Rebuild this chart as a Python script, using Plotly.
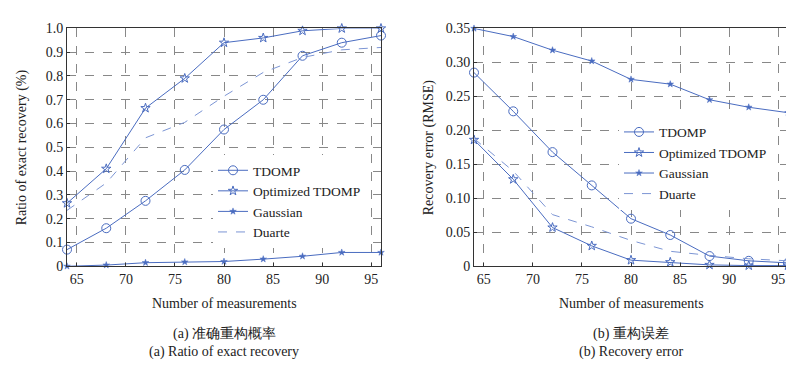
import plotly.graph_objects as go

x_meas = [64, 68, 72, 76, 80, 84, 88, 92, 96]

# (a) Ratio of exact recovery
ratio_tdomp = [0.07, 0.16, 0.275, 0.405, 0.575, 0.70, 0.885, 0.94, 0.97]
ratio_opt = [0.265, 0.41, 0.665, 0.79, 0.94, 0.96, 0.99, 1.0, 1.0]
ratio_gauss = [0.0, 0.005, 0.015, 0.018, 0.02, 0.03, 0.042, 0.058, 0.058]
ratio_duarte = [0.235, 0.35, 0.54, 0.605, 0.715, 0.815, 0.878, 0.91, 0.92]

# (b) Recovery error
err_tdomp = [0.285, 0.228, 0.168, 0.119, 0.070, 0.046, 0.015, 0.008, 0.005]
err_opt = [0.186, 0.128, 0.057, 0.030, 0.009, 0.006, 0.002, 0.001, 0.001]
err_gauss = [0.350, 0.338, 0.318, 0.302, 0.275, 0.268, 0.245, 0.234, 0.226]
err_duarte = [0.188, 0.140, 0.076, 0.058, 0.038, 0.022, 0.016, 0.011, 0.008]

x_ticks = [65, 70, 75, 80, 85, 90, 95]
left_yticks = [0, 0.1, 0.2, 0.3, 0.4, 0.5, 0.6, 0.7, 0.8, 0.9, 1.0]
left_yticktext = ["0", "0.1", "0.2", "0.3", "0.4", "0.5", "0.6", "0.7", "0.8", "0.9", "1.0"]
right_yticks = [0, 0.05, 0.10, 0.15, 0.20, 0.25, 0.30, 0.35]
right_yticktext = ["0", "0.05", "0.10", "0.15", "0.20", "0.25", "0.30", "0.35"]

names = ["TDOMP", "Optimized TDOMP", "Gaussian", "Duarte"]

W, H = 794, 366
FONT = "Liberation Serif"
BLUE = "#4a6cc0"
LBLUE = "#7c95d4"

fig = go.Figure()

def add_series(xa, ya, ys, legendname):
    styles = [
        dict(mode="lines+markers", marker=dict(symbol="circle-open", size=9, color=BLUE, line=dict(width=1, color=BLUE)), line=dict(color=BLUE, width=1)),
        dict(mode="lines+markers", marker=dict(symbol="star-open", size=7, color=BLUE, line=dict(width=1, color=BLUE)), line=dict(color=BLUE, width=1)),
        dict(mode="lines+markers", marker=dict(symbol="star", size=5, color=BLUE, line=dict(width=0.5, color=BLUE)), line=dict(color=BLUE, width=1)),
        dict(mode="lines", line=dict(color=LBLUE, width=1, dash="dash")),
    ]
    for name, y, st in zip(names, ys, styles):
        fig.add_trace(go.Scatter(x=x_meas, y=y, name=name, xaxis=xa, yaxis=ya,
                                 legend=legendname, cliponaxis=False, **st))

add_series("x", "y", [ratio_tdomp, ratio_opt, ratio_gauss, ratio_duarte], "legend")
add_series("x2", "y2", [err_tdomp, err_opt, err_gauss, err_duarte], "legend2")

ax_common = dict(
    showline=True, linecolor="#333", linewidth=1, mirror=True,
    showgrid=True, gridcolor="#888", griddash="dash", gridwidth=1,
    ticks="inside", ticklen=3, tickcolor="#333", zeroline=False,
    tickfont=dict(family=FONT, size=14, color="#222"),
)

def px_x(p):
    return p / W

def px_y(p):
    return 1 - p / H

leg_font = dict(family=FONT, size=13.5, color="#222")

fig.update_layout(
    width=W, height=H,
    margin=dict(l=0, r=0, t=0, b=0),
    paper_bgcolor="white", plot_bgcolor="white",
    font=dict(family=FONT, size=14, color="#222"),
    xaxis=dict(domain=[px_x(59), px_x(373)], range=[64, 96], tickvals=x_ticks, anchor="y", **ax_common),
    yaxis=dict(domain=[px_y(262), px_y(14)], range=[0, 1.0], tickvals=left_yticks, ticktext=left_yticktext, anchor="x", **ax_common),
    xaxis2=dict(domain=[px_x(466), px_x(780)], range=[64, 96], tickvals=x_ticks, anchor="y2", **ax_common),
    yaxis2=dict(domain=[px_y(262), px_y(14)], range=[0, 0.35], tickvals=right_yticks, ticktext=right_yticktext, anchor="x2", **ax_common),
    legend=dict(x=px_x(205), y=px_y(146), xanchor="left", yanchor="top", bgcolor="white",
                font=leg_font, tracegroupgap=0, itemwidth=30),
    legend2=dict(x=px_x(611), y=px_y(106), xanchor="left", yanchor="top", bgcolor="white",
                 font=leg_font, tracegroupgap=0, itemwidth=30),
)

annots = [
    dict(text="Number of measurements", x=px_x(216), y=px_y(301)),
    dict(text="Number of measurements", x=px_x(623), y=px_y(301)),
    dict(text="(a) 准确重构概率", x=px_x(216), y=px_y(333)),
    dict(text="(a) Ratio of exact recovery", x=px_x(216), y=px_y(351)),
    dict(text="(b) 重构误差", x=px_x(623), y=px_y(333)),
    dict(text="(b) Recovery error", x=px_x(623), y=px_y(351)),
    dict(text="Ratio of exact recovery (%)", x=px_x(14), y=px_y(138), textangle=-90),
    dict(text="Recovery error (RMSE)", x=px_x(421), y=px_y(138), textangle=-90),
]
for a in annots:
    fig.add_annotation(xref="paper", yref="paper", showarrow=False,
                       xanchor="center", yanchor="middle",
                       font=dict(family=FONT, size=14, color="#222"), **a)

fig.write_html("out.html")
